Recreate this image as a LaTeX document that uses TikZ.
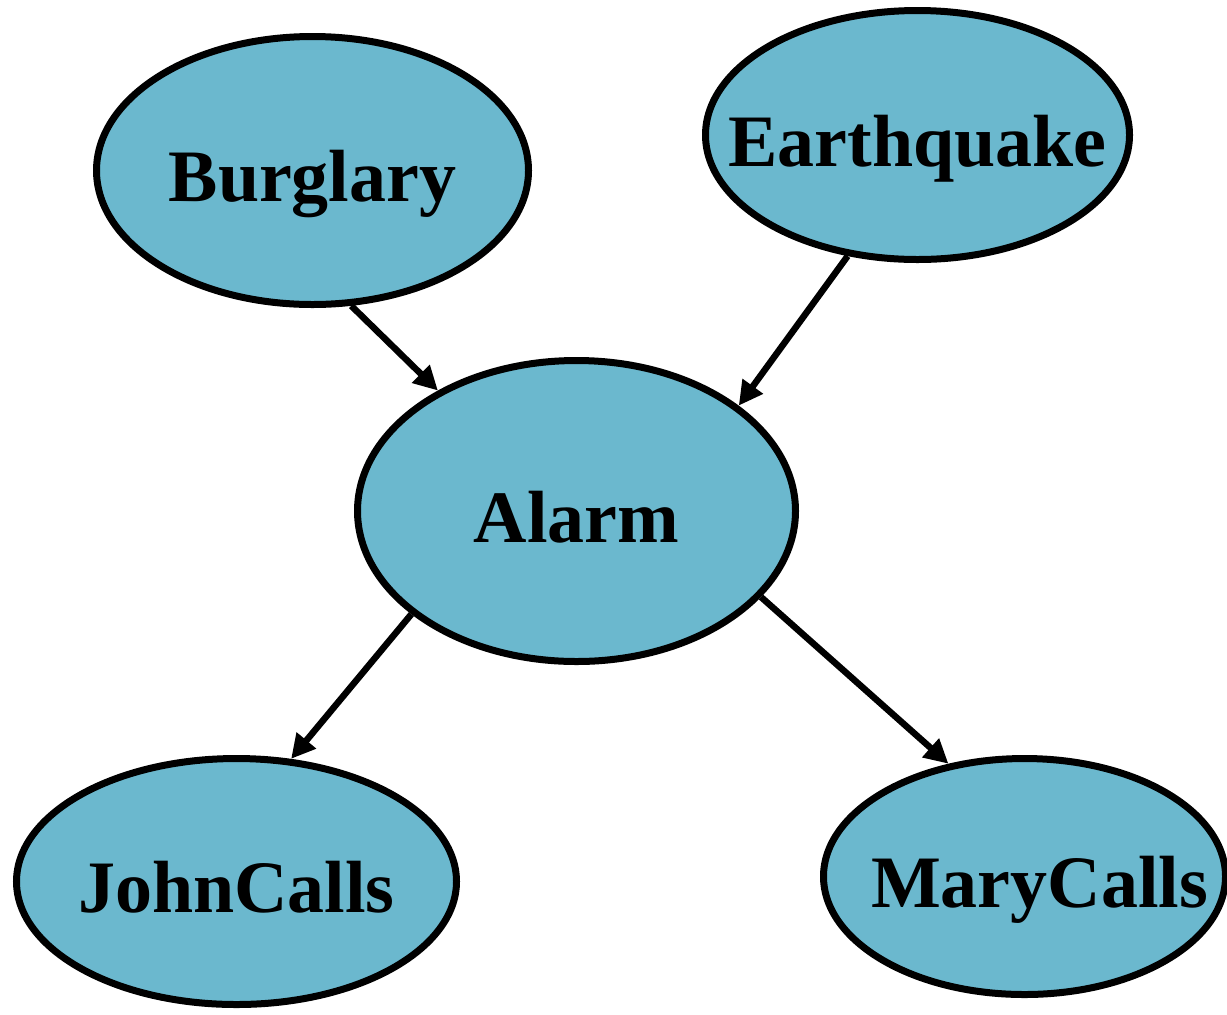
\documentclass[tikz,border=0pt]{standalone}
\usepackage{fontspec}
\setmainfont{Liberation Serif}
\usetikzlibrary{shapes.geometric,arrows.meta}
\definecolor{nodefill}{RGB}{107,184,206}
\tikzset{
  bnode/.style={ellipse, draw=black, fill=nodefill, line width=0.14cm, inner sep=0pt,
    text height=1.24cm, text depth=0cm,
    font=\fontsize{42.1}{50}\selectfont\bfseries},
  edge/.style={draw=black, line width=0.13cm, -{Triangle[length=0.48cm,width=0.48cm]}}
}
\begin{document}
\begin{tikzpicture}
\useasboundingbox (0,0) rectangle (24.54,-20.28);
\node[bnode, minimum width=8.64cm, minimum height=5.36cm] (burg) at (6.25,-3.41) {\makebox[0pt]{Burglary}};
\node[bnode, minimum width=8.48cm, minimum height=4.98cm] (earth) at (18.35,-2.70) {\makebox[0pt]{Earthquake}};
\node[bnode, minimum width=8.76cm, minimum height=6.02cm] (alarm) at (11.53,-10.22) {\makebox[0pt]{Alarm}};
\node[bnode, minimum width=8.80cm, minimum height=4.92cm] (john) at (4.73,-17.63) {\makebox[0pt]{JohnCalls}};
\node[bnode, minimum width=8.04cm, minimum height=4.72cm] (mary) at (20.49,-17.53) {\makebox[0pt]{\hspace*{0.6cm}MaryCalls}};
\draw[edge] (burg.-74) -- (alarm.139.7);
\draw[edge] (earth.-120.5) -- (alarm.33.9);
\draw[edge] (alarm.-148.5) -- (john.66.6);
\draw[edge] (alarm.-25.7) -- (mary.124.8);
\end{tikzpicture}
\end{document}
